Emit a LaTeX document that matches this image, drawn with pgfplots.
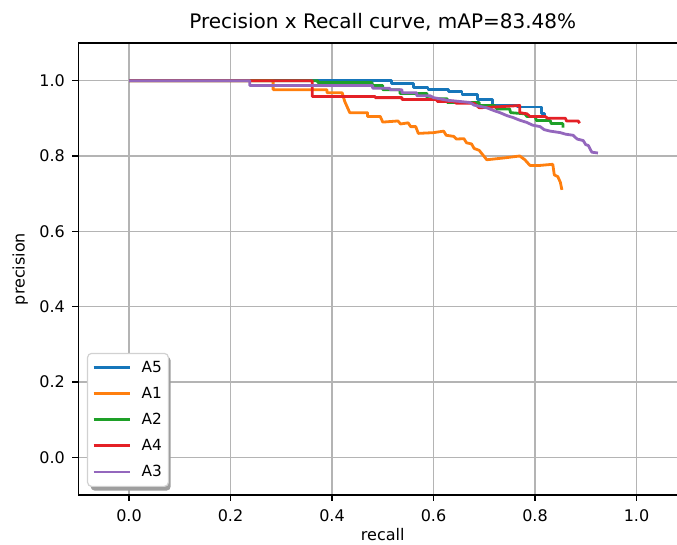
\documentclass[border=0pt]{standalone}
\usepackage{fontspec}
\setmainfont{DejaVu Sans}
\usepackage{pgfplots}
\pgfplotsset{compat=1.18}

\definecolor{cA5}{RGB}{22,118,186}
\definecolor{cA1}{RGB}{255,127,14}
\definecolor{cA2}{RGB}{30,160,40}
\definecolor{cA4}{RGB}{228,32,38}
\definecolor{cA3}{RGB}{148,103,189}
\definecolor{gridc}{RGB}{180,180,180}

\begin{document}
\begin{tikzpicture}
\begin{axis}[
    name=ax,
    scale only axis,
    width=456.75pt, height=339pt,
    xmin=-0.1, xmax=1.1, ymin=-0.1, ymax=1.1,
    tick pos=left,
    xtick={0,0.2,0.4,0.6,0.8,1.0},
    ytick={0,0.2,0.4,0.6,0.8,1.0},
    /pgf/number format/.cd, fixed, fixed zerofill, precision=1, assume math mode=true,
    /pgfplots/.cd,
    tick label style={font=\fontsize{12}{14}\selectfont},
    xticklabel style={yshift=-3pt},
    yticklabel style={xshift=-2pt},
    tick align=outside, major tick length=4.5pt,
    tick style={black, line width=1pt},
    axis line style={black, line width=1pt},
    grid=major, grid style={gridc, line width=1.1pt},
    title={Precision x Recall curve, mAP=83.48\%},
    every axis title/.style={at={(0.5,1)}, anchor=center, yshift=15.75pt,
        font=\fontsize{15}{18}\selectfont},
    xlabel={recall}, ylabel={precision},
    label style={font=\fontsize{12}{14}\selectfont},
    xlabel style={at={(axis description cs:0.5,0)}, anchor=center, yshift=-30pt},
    ylabel style={at={(axis description cs:-0.0952,0.5)}, anchor=center},
    legend cell align=left,
    legend image code/.code={\draw[#1, line width=2.1pt] (0pt,0pt) -- (27pt,0pt);},
    legend style={at={(0,0)}, anchor=south west, xshift=6.56pt, yshift=6pt,
        font=\fontsize{11.5}{13.5}\selectfont,
        draw=black!18, line width=0.9pt, fill=white, rounded corners=3pt,
        inner xsep=3.4pt, inner ysep=4.3pt, row sep=6.6pt,
        nodes={inner sep=1.5pt}, /tikz/column sep=6.5pt},
    every axis plot/.append style={line width=2.1pt, line join=round},
]
% legend shadow
\fill[black!38, rounded corners=3pt]
    ([xshift=9.3pt,yshift=3.3pt]rel axis cs:0,0) rectangle
    ([xshift=69.3pt,yshift=103.8pt]rel axis cs:0,0);
% A5
\addplot[cA5] coordinates {
(0,1.0) (0.518,1.0) (0.518,0.992) (0.56,0.992) (0.56,0.981) (0.589,0.981)
(0.589,0.976) (0.629,0.976) (0.629,0.971) (0.656,0.971) (0.656,0.963)
(0.686,0.963) (0.686,0.950) (0.717,0.950) (0.717,0.934) (0.765,0.934)
(0.765,0.930) (0.812,0.930) (0.812,0.912) (0.818,0.912) (0.818,0.906)
};
\addlegendentry{A5}
% A1
\addplot[cA1] coordinates {
(0,1.0) (0.284,1.0) (0.284,0.976) (0.39,0.976) (0.39,0.968) (0.42,0.968)
(0.425,0.945) (0.43,0.93) (0.435,0.915) (0.47,0.915) (0.47,0.905)
(0.495,0.905) (0.5,0.89) (0.53,0.893) (0.535,0.885) (0.55,0.888)
(0.555,0.878) (0.565,0.878) (0.57,0.86) (0.6,0.862) (0.62,0.866)
(0.625,0.855) (0.64,0.852) (0.645,0.845) (0.66,0.846) (0.665,0.835)
(0.675,0.832) (0.68,0.82) (0.69,0.815) (0.705,0.79) (0.74,0.795)
(0.77,0.80) (0.78,0.79) (0.79,0.775) (0.81,0.775) (0.835,0.778)
(0.838,0.75) (0.845,0.745) (0.85,0.73) (0.853,0.71)
};
\addlegendentry{A1}
% A2
\addplot[cA2] coordinates {
(0,1.0) (0.372,1.0) (0.372,0.995) (0.479,0.995) (0.479,0.987) (0.5,0.987)
(0.5,0.976) (0.534,0.976) (0.534,0.966) (0.587,0.966) (0.587,0.952)
(0.627,0.952) (0.627,0.942) (0.69,0.942) (0.69,0.934) (0.72,0.934)
(0.725,0.925) (0.75,0.925) (0.752,0.915) (0.78,0.912) (0.784,0.905)
(0.8,0.905) (0.803,0.894) (0.83,0.894) (0.832,0.886) (0.855,0.886)
(0.855,0.875)
};
\addlegendentry{A2}
% A4
\addplot[cA4] coordinates {
(0,1.0) (0.361,1.0) (0.361,0.958) (0.485,0.958) (0.485,0.955) (0.538,0.955)
(0.538,0.95) (0.607,0.95) (0.607,0.945) (0.64,0.945) (0.645,0.94)
(0.68,0.94) (0.69,0.928) (0.72,0.93) (0.77,0.934) (0.77,0.915)
(0.784,0.912) (0.79,0.905) (0.82,0.905) (0.825,0.9) (0.86,0.9)
(0.862,0.893) (0.885,0.893) (0.888,0.887)
};
\addlegendentry{A4}
% A3
\addplot[cA3] coordinates {
(0,1.0) (0.238,1.0) (0.238,0.987) (0.48,0.987) (0.48,0.98) (0.514,0.98)
(0.514,0.976) (0.538,0.976) (0.538,0.968) (0.567,0.968) (0.567,0.96)
(0.593,0.96) (0.6,0.955) (0.627,0.948) (0.65,0.945) (0.672,0.942)
(0.68,0.935) (0.705,0.928) (0.72,0.92) (0.731,0.915) (0.745,0.907)
(0.757,0.902) (0.77,0.895) (0.784,0.889) (0.795,0.882) (0.81,0.878)
(0.818,0.87) (0.83,0.866) (0.85,0.862) (0.86,0.858) (0.875,0.855)
(0.883,0.845) (0.895,0.841) (0.9,0.83) (0.905,0.828) (0.91,0.815)
(0.912,0.81) (0.924,0.808)
};
\addlegendentry{A3}
\end{axis}
\pgfresetboundingbox
\path[use as bounding box] ([xshift=-58.69pt,yshift=-37.5pt]ax.south west) rectangle ([xshift=-7.69pt,yshift=32.25pt]ax.north east);
\end{tikzpicture}
\end{document}
